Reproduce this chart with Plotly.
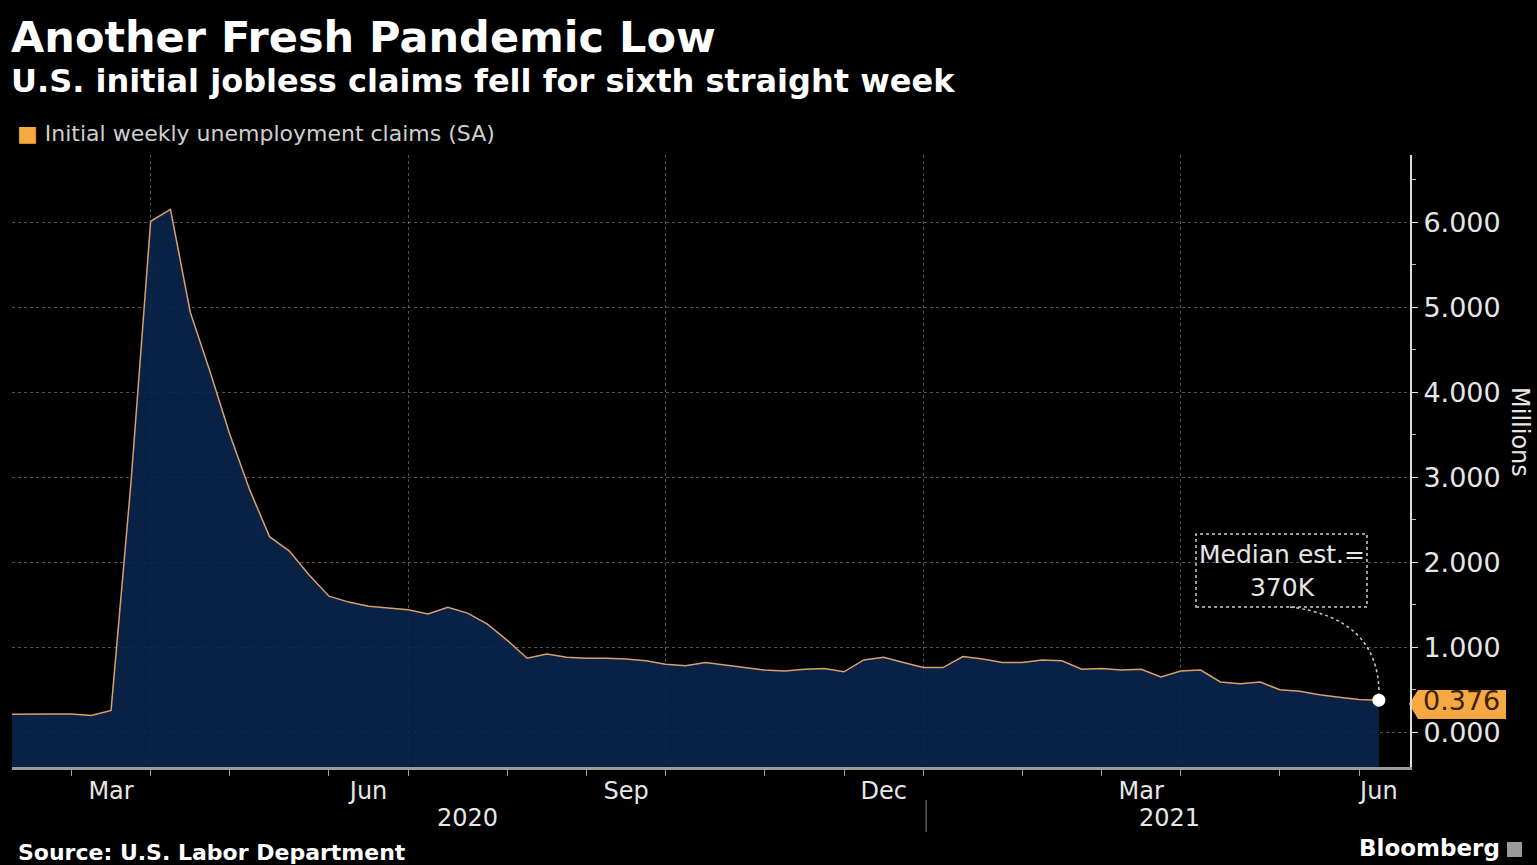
import pandas as pd
import plotly.graph_objects as go

# ---------------- data ----------------
start_date = "2020-02-07"          # weekly observations (Friday-dated)
claims_millions = [
    0.210, 0.215, 0.215, 0.215, 0.195, 0.256, 2.920,
    6.010, 6.150, 4.940, 4.240, 3.500, 2.850, 2.300, 2.130, 1.850, 1.600,
    1.530, 1.480, 1.460, 1.440, 1.390, 1.470, 1.400, 1.270, 1.080, 0.870,
    0.920, 0.880, 0.870, 0.870, 0.860, 0.840, 0.800, 0.780, 0.820, 0.790,
    0.760, 0.730, 0.720, 0.740, 0.750, 0.710, 0.850, 0.880, 0.820, 0.760,
    0.760, 0.890, 0.860, 0.820, 0.820, 0.850, 0.840, 0.740, 0.750, 0.730,
    0.740, 0.650, 0.720, 0.730, 0.590, 0.570, 0.590, 0.500, 0.480, 0.440,
    0.410, 0.385, 0.376,
]
dates = pd.date_range(start_date, periods=len(claims_millions), freq="7D")

month_tick_dates = ["2020-02-28", "2020-03-27", "2020-04-24", "2020-05-29", "2020-06-26",
                    "2020-07-31", "2020-08-28", "2020-09-25", "2020-10-30", "2020-11-27",
                    "2020-12-25", "2021-01-29", "2021-02-26", "2021-03-26", "2021-04-30",
                    "2021-05-28"]
quarter_grid_dates = ["2020-03-27", "2020-06-26", "2020-09-25", "2020-12-25", "2021-03-26"]
month_label_dates = ["2020-03-13", "2020-06-12", "2020-09-11", "2020-12-11", "2021-03-12", "2021-06-04"]
month_labels = ["Mar", "Jun", "Sep", "Dec", "Mar", "Jun"]
year_label_dates = ["2020-07-17", "2021-03-22"]
year_labels = ["2020", "2021"]
year_separator_date = "2020-12-26"
y_tick_vals = [0, 1, 2, 3, 4, 5, 6]
y_tick_text = ["0.000", "1.000", "2.000", "3.000", "4.000", "5.000", "6.000"]
last_value_label = "0.376"
median_est_text = "Median est.=<br>370K"

# ---------------- layout constants ----------------
W, H = 1537, 865
L, R, T, B = 12, 127, 155, 98
Y_MIN, Y_MAX = -0.41, 6.79
X_RANGE = ["2020-02-07", "2021-06-15"]
FONT = "DejaVu Sans, sans-serif"
NAVY = "rgba(10,37,76,0.9)"
ORANGE = "#f6a943"
LINE = "#d8a06a"
TXT = "#e6e6e6"

pw, ph = W - L - R, H - T - B
def px_x(p):  # pixel -> paper x
    return (p - L) / pw
def px_y(p):  # pixel -> paper y
    return (H - B - p) / ph

fig = go.Figure()
fig.add_trace(go.Scatter(x=dates, y=[Y_MIN] * len(dates), mode="lines",
                         line=dict(width=0, color="rgba(0,0,0,0)"), hoverinfo="skip",
                         showlegend=False))
fig.add_trace(go.Scatter(x=dates, y=claims_millions, mode="lines", fill="tonexty",
                         fillcolor=NAVY, line=dict(color=LINE, width=1.5),
                         name="Initial weekly unemployment claims (SA)", showlegend=False))
fig.add_trace(go.Scatter(x=[dates[-1]], y=[claims_millions[-1]], mode="markers",
                         marker=dict(color="white", size=13), showlegend=False,
                         hoverinfo="skip"))
# invisible trace on overlay axis to carry quarter gridlines
fig.add_trace(go.Scatter(x=[dates[0]], y=[claims_millions[0]], xaxis="x2", mode="markers",
                         marker=dict(opacity=0), showlegend=False, hoverinfo="skip"))

fig.update_layout(
    width=W, height=H,
    margin=dict(l=L, r=R, t=T, b=B),
    paper_bgcolor="black", plot_bgcolor="black",
    font=dict(family=FONT, color=TXT),
    xaxis=dict(
        type="date", range=X_RANGE,
        tickmode="array", tickvals=month_label_dates, ticktext=month_labels,
        ticks="", showgrid=False, zeroline=False,
        tickfont=dict(size=24, color=TXT),
        showline=True, linecolor="#9c9c9c", linewidth=3,
        minor=dict(tickmode="array", tickvals=month_tick_dates, ticks="outside",
                   ticklen=6, tickcolor="#9c9c9c", tickwidth=1, showgrid=False),
    ),
    xaxis2=dict(
        type="date", range=X_RANGE, overlaying="x", matches="x",
        tickmode="array", tickvals=quarter_grid_dates, showticklabels=False,
        ticks="", showgrid=True, gridcolor="rgba(150,150,150,0.55)", griddash="dot",
        gridwidth=1, zeroline=False, showline=False,
    ),
    yaxis=dict(
        side="right", range=[Y_MIN, Y_MAX],
        tickmode="array", tickvals=y_tick_vals, ticktext=y_tick_text,
        ticks="outside", ticklen=6, tickcolor="#dddddd", tickwidth=1,
        tickfont=dict(size=27, color=TXT),
        showgrid=True, gridcolor="rgba(150,150,150,0.55)", griddash="dot", gridwidth=1,
        zeroline=False, showline=True, linecolor="#dddddd", linewidth=2,
        minor=dict(dtick=0.5, ticks="outside", ticklen=4, tickcolor="#bbbbbb", showgrid=False),
    ),
    showlegend=False,
)

annotations = [
    dict(text="<b>Another Fresh Pandemic Low</b>", x=px_x(9), y=px_y(37), xref="paper", yref="paper",
         xanchor="left", yanchor="middle", showarrow=False, font=dict(size=43, color="white")),
    dict(text="<b>U.S. initial jobless claims fell for sixth straight week</b>", x=px_x(9), y=px_y(81),
         xref="paper", yref="paper", xanchor="left", yanchor="middle", showarrow=False,
         font=dict(size=32, color="white")),
    dict(text=f'<span style="color:{ORANGE}">■</span> Initial weekly unemployment claims (SA)',
         x=px_x(15), y=px_y(134), xref="paper", yref="paper", xanchor="left", yanchor="middle",
         showarrow=False, font=dict(size=22, color="#cfcfcf")),
    dict(text="<b>Source: U.S. Labor Department</b>", x=px_x(16), y=px_y(852), xref="paper", yref="paper",
         xanchor="left", yanchor="middle", showarrow=False, font=dict(size=22, color="white")),
    dict(text="<b>Bloomberg</b>", x=px_x(1502), y=px_y(848), xref="paper", yref="paper",
         xanchor="right", yanchor="middle", showarrow=False, font=dict(size=23, color="white")),
    dict(text="Millions", x=px_x(1520), y=px_y(432), xref="paper", yref="paper",
         xanchor="center", yanchor="middle", textangle=90, showarrow=False,
         font=dict(size=24, color=TXT)),
    dict(text=last_value_label, x=px_x(1461), y=claims_millions[-1], xref="paper", yref="y",
         xanchor="center", yanchor="middle", showarrow=False, font=dict(size=27, color="#3b2200")),
    dict(text=median_est_text, x=px_x(1282), y=px_y(571), xref="paper", yref="paper",
         xanchor="center", yanchor="middle", showarrow=False, font=dict(size=25, color=TXT),
         align="center"),
]
for d, t in zip(year_label_dates, year_labels):
    annotations.append(dict(text=t, x=d, y=px_y(818), xref="x", yref="paper", xanchor="center",
                            yanchor="middle", showarrow=False, font=dict(size=24, color=TXT)))
fig.update_layout(annotations=annotations)

shapes = [
    # year separator
    dict(type="line", xref="x", yref="paper", x0=year_separator_date, x1=year_separator_date,
         y0=px_y(800), y1=px_y(832), line=dict(color="#888888", width=1)),
    # last value label background (arrow-shaped)
    dict(type="path", xref="paper", yref="paper",
         path=(f"M {px_x(1409)},{px_y(704)} L {px_x(1418)},{px_y(690)} L {px_x(1506)},{px_y(690)} "
               f"L {px_x(1506)},{px_y(719)} L {px_x(1418)},{px_y(719)} Z"),
         fillcolor=ORANGE, line=dict(width=0), layer="below"),
    # median estimate dotted box
    dict(type="rect", xref="paper", yref="paper", x0=px_x(1196), x1=px_x(1367),
         y0=px_y(607), y1=px_y(534), line=dict(color="#cccccc", width=1.5, dash="dot")),
    # dotted connector curve
    dict(type="path", xref="paper", yref="paper",
         path=f"M {px_x(1290)},{px_y(607)} Q {px_x(1379)},{px_y(618)} {px_x(1379)},{px_y(694)}",
         line=dict(color="#cccccc", width=1.5, dash="dot")),
    # bloomberg logo square
    dict(type="rect", xref="paper", yref="paper", x0=px_x(1507), x1=px_x(1522),
         y0=px_y(857), y1=px_y(842), fillcolor="#9a9a9a", line=dict(width=0)),
]
fig.update_layout(shapes=shapes)

fig.write_html(
    "out.html",
    config={"displayModeBar": False},
    post_script="document.body.style.margin='0';document.body.style.background='black';",
)
